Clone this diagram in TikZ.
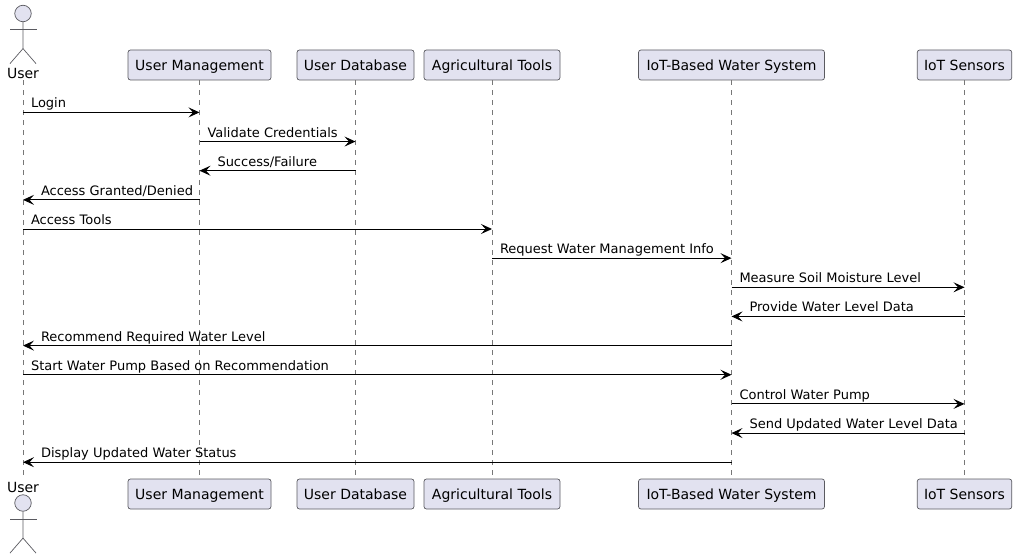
\documentclass[tikz,border=0pt]{standalone}
\usepackage{fontspec}
\setmainfont{DejaVu Sans}
\usetikzlibrary{arrows.meta}
\definecolor{boxfill}{HTML}{E2E2F0}
\definecolor{boxline}{HTML}{5A5A60}
\definecolor{lifecol}{HTML}{777777}
\tikzstyle{block} = [
	draw=boxline,
	line width=0.7pt,
	fill=boxfill,
	rounded corners=2.5pt,
	minimum height=30pt,
	inner sep=0pt,
	text height=13pt,
	text depth=2.5pt,
	font=\fontsize{14}{16}\selectfont
]
\tikzstyle{input} = [coordinate]
\tikzstyle{head} = [circle, draw=boxline, line width=0.7pt, fill=boxfill, minimum size=16.5pt, inner sep=0pt]
\tikzstyle{actorname} = [minimum height=14pt, inner sep=0pt, font=\fontsize{14}{16}\selectfont]
\tikzstyle{limb} = [draw=boxline, line width=0.7pt]
\tikzstyle{lifeline} = [draw=lifecol, line width=0.7pt, dash pattern=on 5pt off 5pt]
\tikzstyle{msg} = [draw=black, line width=1pt, -{Stealth[length=11pt,width=10pt,inset=4.5pt]}]
\tikzstyle{lblfwd} = [anchor=base west, inner sep=0pt, xshift=7.5pt, yshift=4.5pt, font=\fontsize{13}{15}\selectfont]
\tikzstyle{lblrev} = [anchor=base west, inner sep=0pt, xshift=17.5pt, yshift=4.5pt, font=\fontsize{13}{15}\selectfont]

\begin{document}
\begin{tikzpicture}[x=1pt, y=-1pt]
	\useasboundingbox (0,0) rectangle (1017,559);
	\node[actorname, name=usr] at (23,73) {User};
	\node[actorname, name=usrB] at (23,487) {User};
	\node[input, name=top] at (0,65) {};
	\node[input, name=bot] at (0,494) {};

	\node[block, name=mgmt, minimum width=143pt] at (usr |- top) [xshift=176.5pt] {User Management};
	\node[block, name=dbase, minimum width=117pt, right of=mgmt, node distance=156pt] {User Database};
	\node[block, name=tools, minimum width=136pt, right of=dbase, node distance=136.5pt] {Agricultural Tools};
	\node[block, name=water, minimum width=186pt, right of=tools, node distance=239.5pt] {IoT-Based Water System};
	\node[block, name=sens, minimum width=94.5pt, right of=water, node distance=233pt] {IoT Sensors};

	\node[block, name=mgmtB, minimum width=143pt] at (mgmt |- bot) {User Management};
	\node[block, name=dbaseB, minimum width=117pt] at (dbase |- bot) {User Database};
	\node[block, name=toolsB, minimum width=136pt] at (tools |- bot) {Agricultural Tools};
	\node[block, name=waterB, minimum width=186pt] at (water |- bot) {IoT-Based Water System};
	\node[block, name=sensB, minimum width=94.5pt] at (sens |- bot) {IoT Sensors};

	\node[head, name=uhead] at (23,13.5) {};
	\node[head, name=uheadB] at (23,503) {};
	\draw[limb] (uhead.south) -- ++(0,26.5) coordinate (hip) -- ++(-13,15);
	\draw[limb] (hip) -- ++(13,15);
	\draw[limb] (10,29) -- (36.5,29);
	\draw[limb] (uheadB.south) -- ++(0,26.5) coordinate (hipB) -- ++(-13,15);
	\draw[limb] (hipB) -- ++(13,15);
	\draw[limb] (10,519) -- (36.5,519);

	\draw[lifeline] (usr.south) -- (usrB.north);
	\draw[lifeline] (mgmt.south) -- (mgmtB.north);
	\draw[lifeline] (dbase.south) -- (dbaseB.north);
	\draw[lifeline] (tools.south) -- (toolsB.north);
	\draw[lifeline] (water.south) -- (waterB.north);
	\draw[lifeline] (sens.south) -- (sensB.north);

	\node[input, name=r1] at (0,112.4) {};
	\node[input, name=r2, below of=r1, node distance=29.15pt] {};
	\node[input, name=r3, below of=r2, node distance=29.15pt] {};
	\node[input, name=r4, below of=r3, node distance=29.15pt] {};
	\node[input, name=r5, below of=r4, node distance=29.15pt] {};
	\node[input, name=r6, below of=r5, node distance=29.15pt] {};
	\node[input, name=r7, below of=r6, node distance=29.15pt] {};
	\node[input, name=r8, below of=r7, node distance=29.15pt] {};
	\node[input, name=r9, below of=r8, node distance=29.15pt] {};
	\node[input, name=r10, below of=r9, node distance=29.15pt] {};
	\node[input, name=r11, below of=r10, node distance=29.15pt] {};
	\node[input, name=r12, below of=r11, node distance=29.15pt] {};
	\node[input, name=r13, below of=r12, node distance=29.15pt] {};

	\draw[msg] (usr |- r1) -- (mgmt |- r1) node[lblfwd, at start]{Login};
	\draw[msg] (mgmt |- r2) -- (dbase |- r2) node[lblfwd, at start]{Validate Credentials};
	\draw[msg] (dbase |- r3) -- (mgmt |- r3) node[lblrev, at end]{Success/Failure};
	\draw[msg] (mgmt |- r4) -- (usr |- r4) node[lblrev, at end]{Access Granted/Denied};
	\draw[msg] (usr |- r5) -- (tools |- r5) node[lblfwd, at start]{Access Tools};
	\draw[msg] (tools |- r6) -- (water |- r6) node[lblfwd, at start]{Request Water Management Info};
	\draw[msg] (water |- r7) -- (sens |- r7) node[lblfwd, at start]{Measure Soil Moisture Level};
	\draw[msg] (sens |- r8) -- (water |- r8) node[lblrev, at end]{Provide Water Level Data};
	\draw[msg] (water |- r9) -- (usr |- r9) node[lblrev, at end]{Recommend Required Water Level};
	\draw[msg] (usr |- r10) -- (water |- r10) node[lblfwd, at start]{Start Water Pump Based on Recommendation};
	\draw[msg] (water |- r11) -- (sens |- r11) node[lblfwd, at start]{Control Water Pump};
	\draw[msg] (sens |- r12) -- (water |- r12) node[lblrev, at end]{Send Updated Water Level Data};
	\draw[msg] (water |- r13) -- (usr |- r13) node[lblrev, at end]{Display Updated Water Status};
\end{tikzpicture}
\end{document}
